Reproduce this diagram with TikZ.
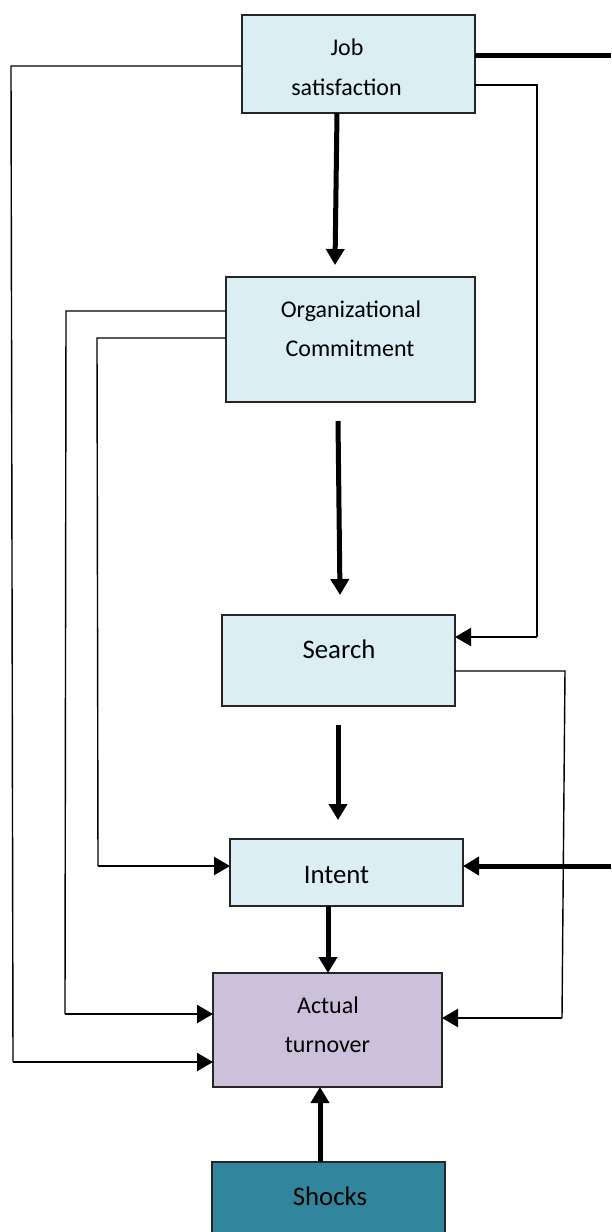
\documentclass[tikz,border=0pt]{standalone}
\usepackage{fontspec}
\setmainfont{Carlito}
\usetikzlibrary{arrows.meta}
\definecolor{lblue}{HTML}{DAEEF3}
\definecolor{lav}{HTML}{CCC1DA}
\definecolor{teal5}{HTML}{31859C}
\tikzset{
  box/.style={draw=black!85, line width=1.5pt, rectangle, inner sep=0pt, outer sep=0pt},
  txt/.style={anchor=base, inner sep=0pt},
  twoline/.style={font=\fontsize{24}{29}\selectfont},
  oneline/.style={font=\fontsize{26.8}{32}\selectfont},
  conn/.style={line width=1.4pt},
  connend/.style={line width=2.2pt, -{Triangle[length=16pt,width=18pt]}},
  thick5/.style={line width=5pt},
  thickarr/.style={line width=5pt, -{Triangle[length=16pt,width=18pt]}},
}
\begin{document}
\begin{tikzpicture}[x=1pt,y=-1pt]
\useasboundingbox (0,0) rectangle (611,1232);
\clip (0,0) rectangle (611,1232);
% boxes
\node[box, fill=lblue, minimum width=233pt, minimum height=98pt] (job) at (358.5,64) {};
\node[box, fill=lblue, minimum width=249pt, minimum height=125pt] (org) at (350.5,339.5) {};
\node[box, fill=lblue, minimum width=233pt, minimum height=91pt] (search) at (338.5,660.5) {};
\node[box, fill=lblue, minimum width=233pt, minimum height=67pt] (intent) at (346.5,872.5) {};
\node[box, fill=lav, minimum width=229pt, minimum height=114pt] (act) at (327.5,1030) {};
\node[box, fill=teal5, minimum width=233pt, minimum height=90pt] (shocks) at (328.5,1207) {};
% texts
\node[txt, twoline] (jobt1) at (347,55) {Job};
\node[txt, twoline] (jobt2) at (346.5,95) {satisfaction};
\node[txt, twoline] (orgt1) at (351,317) {Organizational};
\node[txt, twoline] (orgt2) at (350,356) {Commitment};
\node[txt, oneline] (searcht) at (339,658) {Search};
\node[txt, oneline] (intentt) at (336.5,883) {Intent};
\node[txt, twoline] (actt1) at (328,1013) {Actual};
\node[txt, twoline] (actt2) at (327.5,1052) {turnover};
\node[txt, oneline] (shockst) at (330,1205) {Shocks};
% coordinates
\coordinate (r1) at (611,55);
\coordinate (jr) at (537,85);
\coordinate (jrd) at (537,637);
\coordinate (jl) at (11,66);
\coordinate (jld) at (13,1062);
\coordinate (ol1) at (66,311);
\coordinate (ol1d) at (65,1014);
\coordinate (ol2) at (97,338);
\coordinate (ol2d) at (98,866);
\coordinate (sr) at (565,671);
\coordinate (srd) at (562,1018);
\coordinate (ri) at (611,866);
\coordinate (a1s) at (338,421);
\coordinate (a1e) at (340,595);
\coordinate (a2s) at (338,725);
\coordinate (a2e) at (338,820);
% thin connectors
\draw[conn] (job.east |- jr) -- (jr) -- (jrd);
\draw[connend] (jrd) -- (search.east |- jrd);
\draw[conn] (job.west |- jl) -- (jl) -- (jld);
\draw[connend] (jld) -- (act.west |- jld);
\draw[conn] (org.west |- ol1) -- (ol1) -- (ol1d);
\draw[connend] (ol1d) -- (act.west |- ol1d);
\draw[conn] (org.west |- ol2) -- (ol2) -- (ol2d);
\draw[connend] (ol2d) -- (intent.west |- ol2d);
\draw[conn] (search.east |- sr) -- (sr) -- (srd);
\draw[connend] (srd) -- (act.east |- srd);
% thick connectors
\draw[thick5] (job.east |- r1) -- (r1);
\draw[thickarr] (ri) -- (intent.east |- ri);
\draw[thickarr] (job.south -| 337,0) -- (335,265);
\draw[thickarr] (a1s) -- (a1e);
\draw[thickarr] (a2s) -- (a2e);
\draw[thickarr] (intent.south -| 328,0) -- (act.north -| 328,0);
\draw[thickarr] (shocks.north -| 320,0) -- (act.south -| 320,0);
\end{tikzpicture}
\end{document}
